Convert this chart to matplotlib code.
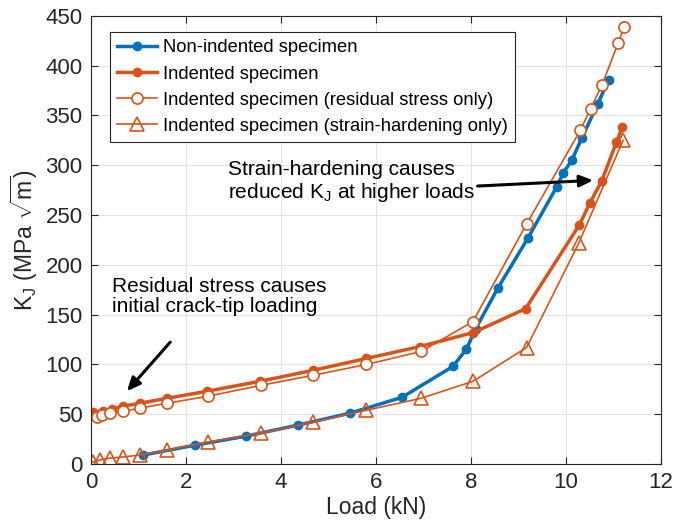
import numpy as np
import matplotlib.pyplot as plt

plt.rcParams['font.family'] = ['Liberation Sans', 'DejaVu Sans']
plt.rcParams['mathtext.fontset'] = 'custom'
plt.rcParams['mathtext.rm'] = 'Liberation Sans'
plt.rcParams['mathtext.it'] = 'Liberation Sans'

blue = '#0072BD'
orange = '#D95319'

# non-indented specimen
x_non = [1.1, 2.2, 3.27, 4.35, 5.45, 6.55, 7.62, 7.9, 8.1, 8.57, 9.2, 9.8, 9.94, 10.12, 10.33, 10.67, 10.9]
k_non = [9, 19, 28, 39, 51, 67, 98, 115, 136, 177, 227, 278, 292, 305, 327, 362, 386]

# indented specimen
x_ind = [0.05, 0.25, 0.44, 0.67, 1.03, 1.6, 2.44, 3.55, 4.67, 5.8, 6.93, 8.05, 9.15, 10.28, 10.5, 10.75, 11.06, 11.18]
k_ind = [52, 53, 55, 58, 61, 66, 73, 83, 94, 106, 118, 132, 156, 240, 262, 284, 323, 338]

# residual stress only
x_rs = [0.12, 0.23, 0.4, 0.67, 1.03, 1.6, 2.46, 3.58, 4.67, 5.8, 6.95, 8.04, 9.17, 10.3, 10.52, 10.76, 11.1, 11.22]
k_rs = [47, 49, 51, 53, 56, 61, 68, 79, 89, 100, 113, 143, 241, 335, 357, 381, 423, 439]

# strain-hardening only
x_sh = [0.04, 0.19, 0.4, 0.67, 1.03, 1.6, 2.46, 3.58, 4.67, 5.8, 6.95, 8.04, 9.17, 10.27, 11.2]
k_sh = [2, 4, 6, 7, 9, 14, 22, 31, 42, 54, 66, 83, 117, 222, 325]

fig = plt.figure(figsize=(6.78, 5.30), dpi=100)
ax = fig.add_axes([0.134, 0.1245, 0.841, 0.8455])

ax.plot(x_non, k_non, '-o', color=blue, lw=2.5, ms=6, label='Non-indented specimen')
ax.plot(x_ind, k_ind, '-o', color=orange, lw=2.5, ms=6, label='Indented specimen')
ax.plot(x_rs, k_rs, '-o', color=orange, lw=1.2, ms=8, mfc='white', mew=1.2,
        label='Indented specimen (residual stress only)')
ax.plot(x_sh, k_sh, '-^', color=orange, lw=1.2, ms=10, mfc='none', mew=1.2,
        label='Indented specimen (strain-hardening only)')

ax.set_xlim(0, 12)
ax.set_ylim(0, 450)
ax.set_xticks(np.arange(0, 13, 2))
ax.set_yticks(np.arange(0, 451, 50))
ax.grid(True, color='#e3e3e3', lw=0.8)
ax.set_axisbelow(True)
ax.tick_params(direction='in', length=5, labelsize=16, colors='#262626', top=True, right=True,
               labeltop=False, labelright=False, pad=6)
for s in ax.spines.values():
    s.set_color('#262626')
    s.set_linewidth(0.8)

ax.set_xlabel('Load (kN)', fontsize=16.5, color='#262626', labelpad=2)
ax.set_ylabel(r'K$_{\mathrm{J}}$ (MPa $\sqrt{\mathrm{m}}$)', fontsize=16.5, color='#262626', labelpad=4)

leg = ax.legend(loc='upper left', bbox_to_anchor=(0.033, 0.964), fontsize=13.2, fancybox=False,
                framealpha=1, edgecolor='#262626', borderpad=0.4, labelspacing=0.5,
                handlelength=2.2, handletextpad=0.3, borderaxespad=0)
leg.get_frame().set_linewidth(0.8)

ax.text(0.44, 188, 'Residual stress causes\ninitial crack-tip loading', fontsize=15, va='top',
        linespacing=1.1)
ax.annotate('', xy=(0.72, 71), xytext=(1.71, 124.5),
            arrowprops=dict(arrowstyle='-|>,head_width=0.35,head_length=0.8', color='black', lw=2.2))

ax.text(2.88, 305, 'Strain-hardening causes\nreduced K$_{\\mathrm{J}}$ at higher loads', fontsize=15,
        va='top', linespacing=1.1)
ax.annotate('', xy=(10.63, 285), xytext=(8.08, 279),
            arrowprops=dict(arrowstyle='-|>,head_width=0.35,head_length=0.8', color='black', lw=2.2))

plt.savefig('out.png', dpi=100)
